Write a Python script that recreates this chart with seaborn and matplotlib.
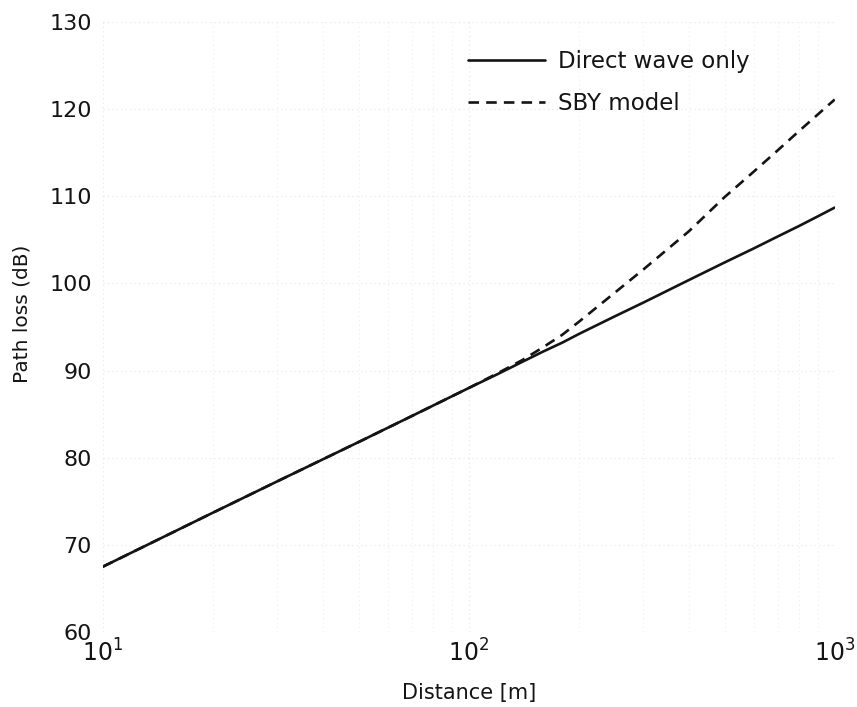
import matplotlib
matplotlib.use("Agg")
import matplotlib.pyplot as plt
import matplotlib.ticker as mticker
import numpy as np
import pandas as pd
import seaborn as sns

# Distance samples [m] and path loss values [dB]
distance = [10, 20, 30, 50, 70, 100, 120, 140, 160, 180, 200, 250, 300,
            400, 500, 600, 700, 800, 900, 1000]
direct_wave = [67.5, 73.7, 77.3, 81.8, 84.8, 88.0, 89.6, 91.0, 92.2, 93.2,
               94.2, 96.2, 97.8, 100.4, 102.4, 104.0, 105.4, 106.6, 107.7, 108.7]
sby_model = [67.5, 73.7, 77.3, 81.8, 84.8, 88.0, 89.7, 91.2, 92.7, 94.1,
             95.6, 98.9, 101.6, 106.0, 109.9, 112.8, 115.3, 117.5, 119.4, 121.1]
series_labels = ["Direct wave only", "SBY model"]

df = pd.concat([
    pd.DataFrame({"distance": distance, "loss": direct_wave, "model": series_labels[0]}),
    pd.DataFrame({"distance": distance, "loss": sby_model, "model": series_labels[1]}),
])

sns.set_theme(style="white")
plt.rcParams["font.family"] = ["DejaVu Sans"]
plt.rcParams["mathtext.default"] = "regular"

ink = "#141414"

fig = plt.figure(figsize=(8.57, 7.07), dpi=100)
ax = fig.add_axes([0.120, 0.106, 0.854, 0.863])

sns.lineplot(data=df, x="distance", y="loss", style="model",
             dashes={series_labels[0]: "", series_labels[1]: (4, 2.7)},
             color=ink, linewidth=1.9, ax=ax)

ax.set_xscale("log")
ax.set_xlim(10, 1000)
ax.set_ylim(60, 130)
ax.set_yticks(np.arange(60, 131, 10))
ax.xaxis.set_major_locator(mticker.LogLocator(base=10, numticks=5))
ax.xaxis.set_minor_locator(mticker.LogLocator(base=10, subs=np.arange(2, 10), numticks=20))
ax.xaxis.set_minor_formatter(mticker.NullFormatter())

# faint dotted grid
ax.grid(True, which="major", axis="both", color="#e6e6e6", linestyle=(0, (1, 3)), linewidth=0.8)
ax.grid(True, which="minor", axis="x", color="#eeeeee", linestyle=(0, (1, 3)), linewidth=0.8)

for s in ax.spines.values():
    s.set_visible(False)

ax.tick_params(axis="both", which="both", length=0, colors=ink)
ax.tick_params(axis="y", labelsize=16, pad=8)
ax.tick_params(axis="x", labelsize=17, pad=5)

ax.set_xlabel("Distance [m]", fontsize=15, color=ink, labelpad=12)
ax.set_ylabel("Path loss (dB)", fontsize=14.5, color=ink)
ax.yaxis.set_label_coords(-0.097, 0.521)

leg = ax.legend(loc="upper left", bbox_to_anchor=(0.499, 0.954), frameon=False,
                fontsize=16.5, handlelength=3.36, handletextpad=0.57,
                labelspacing=0.84, borderpad=0, borderaxespad=0)
for t in leg.get_texts():
    t.set_color(ink)
for h in leg.get_lines():
    h.set_linewidth(1.9)
    h.set_color(ink)

fig.savefig("out.png", dpi=100)
